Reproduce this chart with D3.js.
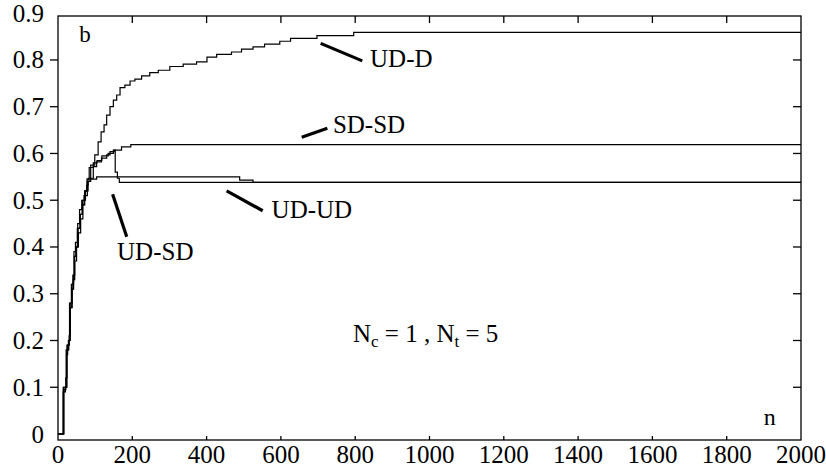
<!DOCTYPE html>
<html>
<head>
<meta charset="utf-8">
<script src="https://cdn.jsdelivr.net/npm/d3@7"></script>
<style>
  body { margin: 0; background: #fff; }
</style>
</head>
<body>
<svg id="chart"></svg>
<script>
// step curves: [n, b]
let udD = [[0,0],[14,0],[14,0.09],[20,0.1],[23,0.17],[26,0.19],[30,0.2],[32,0.27],[37,0.31],[41,0.33],[44,0.38],[48,0.40],[52,0.44],[59,0.47],[65,0.49],[70,0.51],[79,0.54],[88,0.575],[99,0.597],[108,0.625],[116,0.646],[124,0.661],[131,0.682],[140,0.70],[149,0.714],[158,0.725],[167,0.741],[180,0.746],[194,0.755],[207,0.759],[225,0.766],[247,0.773],[270,0.778],[301,0.786],[337,0.791],[373,0.796],[401,0.806],[427,0.812],[467,0.817],[494,0.823],[525,0.828],[556,0.834],[597,0.840],[626,0.846],[697,0.852],[796,0.859],[2000,0.859]]
let sdSd = [[0,0],[16,0],[16,0.1],[22,0.18],[28,0.2],[31,0.28],[36,0.32],[40,0.34],[43,0.39],[47,0.41],[53,0.45],[58,0.48],[64,0.5],[72,0.52],[78,0.545],[84,0.57],[95,0.58],[105,0.585],[118,0.595],[135,0.60],[149,0.607],[171,0.614],[196,0.619],[2000,0.619]]
let udSd = [[0,0],[15,0],[15,0.095],[21,0.1],[24,0.18],[29,0.2],[33,0.27],[38,0.32],[42,0.33],[45,0.38],[49,0.4],[54,0.44],[60,0.47],[66,0.5],[74,0.52],[81,0.547],[95,0.572],[104,0.582],[117,0.59],[131,0.597],[140,0.604],[151,0.607],[154,0.56],[160,0.547],[165,0.538],[2000,0.538]]
let udUd = [[0,0],[14,0],[14,0.1],[21,0.12],[24,0.19],[30,0.21],[33,0.28],[38,0.31],[42,0.34],[45,0.37],[50,0.4],[55,0.43],[61,0.46],[67,0.49],[72,0.52],[77,0.532],[81,0.54],[86,0.545],[104,0.55],[489,0.543],[525,0.538],[2000,0.538]]

let series = [udD, sdSd, udSd, udUd]

let xTicks = [0,200,400,600,800,1000,1200,1400,1600,1800,2000]
let yTicks = [0,0.1,0.2,0.3,0.4,0.5,0.6,0.7,0.8,0.9]

// labels with leader lines, in data units
let notes = [
  {text:'UD-D', at:[840,0.785], from:[707,0.8355], to:[819,0.798]},
  {text:'SD-SD', at:[740,0.644], from:[656,0.6345], to:[725,0.654]},
  {text:'UD-SD', at:[159,0.372], from:[147,0.513], to:[185,0.422]},
  {text:'UD-UD', at:[575,0.462], from:[454,0.520], to:[551,0.4775]}
]

let W = 826, H = 468
let serif = "'Liberation Serif', 'Times New Roman', Times, 'DejaVu Serif', serif"

let svg = d3.select('#chart').attr('width', W).attr('height', H)
  .attr('font-family', serif)

let xScale = d3.scaleLinear().domain([0, 2000]).range([58, 801])
let yScale = d3.scaleLinear().domain([-0.0128, 0.894]).range([440, 16])

let x0 = xScale.range()[0], x1 = xScale.range()[1]
let y0 = yScale.range()[0], y1 = yScale.range()[1]

// frame
svg.append('rect')
  .attr('x', x0).attr('y', y1)
  .attr('width', x1 - x0).attr('height', y0 - y1)
  .attr('fill', 'none').attr('stroke', '#000').attr('stroke-width', 1.3)

let inner = yTicks.filter(d => d > 0 && d < 0.9)
let innerX = xTicks.filter(d => d > 0 && d < 2000)

// left ticks point out, the others in
svg.append('g').selectAll('line').data(inner).enter().append('line')
  .attr('x1', x0 - 8).attr('x2', x0)
  .attr('y1', d => yScale(d)).attr('y2', d => yScale(d))
  .attr('stroke', '#000').attr('stroke-width', 1.3)

svg.append('g').selectAll('line').data(inner).enter().append('line')
  .attr('x1', x1 - 8).attr('x2', x1)
  .attr('y1', d => yScale(d)).attr('y2', d => yScale(d))
  .attr('stroke', '#000').attr('stroke-width', 1.3)

svg.append('g').selectAll('line').data(innerX).enter().append('line')
  .attr('x1', d => xScale(d)).attr('x2', d => xScale(d))
  .attr('y1', y1).attr('y2', y1 + 7)
  .attr('stroke', '#000').attr('stroke-width', 1.3)

svg.append('g').selectAll('line').data(innerX).enter().append('line')
  .attr('x1', d => xScale(d)).attr('x2', d => xScale(d))
  .attr('y1', y0 - 4).attr('y2', y0)
  .attr('stroke', '#000').attr('stroke-width', 1.3)

svg.append('g').selectAll('text').data(yTicks).enter().append('text')
  .attr('x', 44)
  .attr('y', d => yScale(d))
  .attr('dy', '0.34em')
  .attr('text-anchor', 'end')
  .style('font-size', '25px')
  .text(d => d)

svg.append('g').selectAll('text').data(xTicks).enter().append('text')
  .attr('x', d => xScale(d))
  .attr('y', 463)
  .attr('text-anchor', 'middle')
  .style('font-size', '25px')
  .text(d => d)

// curves
let lineGen = d3.line()
  .x(d => xScale(d[0]))
  .y(d => yScale(d[1]))
  .curve(d3.curveStepAfter)

svg.append('g').selectAll('path').data(series).enter().append('path')
  .attr('d', lineGen)
  .attr('fill', 'none')
  .attr('stroke', '#000')
  .attr('stroke-width', 1.2)

// annotations
let ann = svg.append('g')

ann.selectAll('line').data(notes).enter().append('line')
  .attr('x1', d => xScale(d.from[0])).attr('y1', d => yScale(d.from[1]))
  .attr('x2', d => xScale(d.to[0])).attr('y2', d => yScale(d.to[1]))
  .attr('stroke', '#000').attr('stroke-width', 3.2)

ann.selectAll('text').data(notes).enter().append('text')
  .attr('x', d => xScale(d.at[0])).attr('y', d => yScale(d.at[1]))
  .style('font-size', '25px')
  .text(d => d.text)

svg.append('text')
  .attr('x', xScale(57)).attr('y', yScale(0.838))
  .style('font-size', '23px')
  .text('b')

svg.append('text')
  .attr('x', xScale(1900)).attr('y', yScale(0.019))
  .style('font-size', '24px')
  .text('n')

let nt = svg.append('text')
  .attr('x', xScale(794)).attr('y', yScale(0.197))
  .style('font-size', '25px')
nt.append('tspan').text('N')
nt.append('tspan').attr('dy', 5).style('font-size', '17px').text('c')
nt.append('tspan').attr('dy', -5).text(' = 1 , N')
nt.append('tspan').attr('dy', 5).style('font-size', '17px').text('t')
nt.append('tspan').attr('dy', -5).text(' = 5')
</script>
</body>
</html>
